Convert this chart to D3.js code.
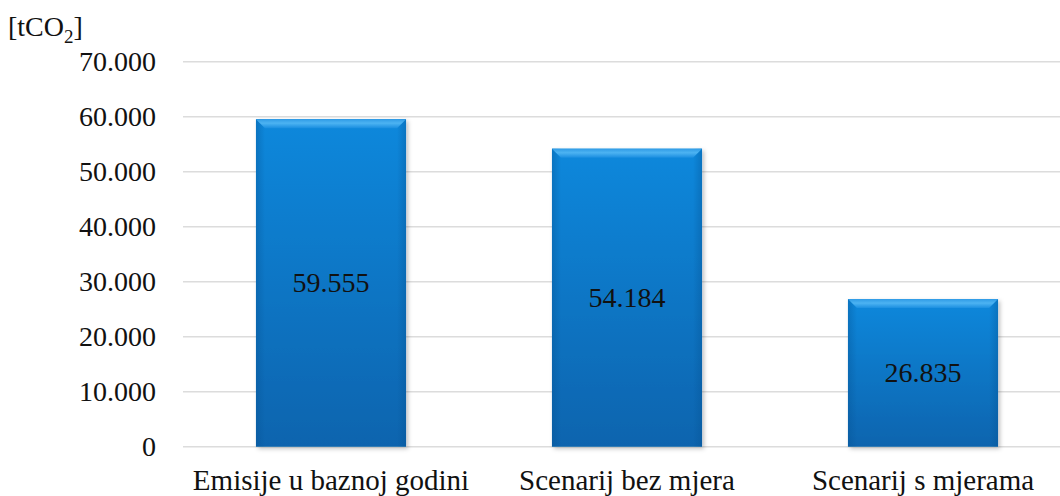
<!DOCTYPE html>
<html>
<head>
<meta charset="utf-8">
<script src="https://cdn.jsdelivr.net/npm/d3@7"></script>
<style>
  html, body { margin: 0; padding: 0; background: #ffffff; }
  svg { display: block; }
  text { font-family: "Liberation Serif", "Times New Roman", serif; fill: #111; }
</style>
</head>
<body>
<svg id="chart" width="1060" height="496"></svg>
<script>
// Emissions by scenario, tonnes of CO2
const categories = ["Emisije u baznoj godini", "Scenarij bez mjera", "Scenarij s mjerama"];
const values = [59555, 54184, 26835];
const tickValues = [0, 10000, 20000, 30000, 40000, 50000, 60000, 70000];
const tickLabels = ["0", "10.000", "20.000", "30.000", "40.000", "50.000", "60.000", "70.000"];
const valueLabels = ["59.555", "54.184", "26.835"];

const W = 1060, H = 496;
const svg = d3.select("#chart");

const x = d3.scaleBand().domain(categories).range([183, 1071]).paddingInner(0.493).paddingOuter(0.2465);
const y = d3.scaleLinear().domain([0, 70000]).range([446.7, 61.7]);

const defs = svg.append("defs");
const grad = defs.append("linearGradient").attr("id", "barFill").attr("x1", 0).attr("y1", 0).attr("x2", 0).attr("y2", 1);
grad.append("stop").attr("offset", "0%").attr("stop-color", "#0a88dc");
grad.append("stop").attr("offset", "100%").attr("stop-color", "#0764ae");

const side = defs.append("linearGradient").attr("id", "sideShade").attr("x1", 0).attr("y1", 0).attr("x2", 1).attr("y2", 0);
side.append("stop").attr("offset", "0%").attr("stop-color", "#04508f").attr("stop-opacity", 0.35);
side.append("stop").attr("offset", "6%").attr("stop-color", "#04508f").attr("stop-opacity", 0);
side.append("stop").attr("offset", "94%").attr("stop-color", "#04508f").attr("stop-opacity", 0);
side.append("stop").attr("offset", "100%").attr("stop-color", "#04508f").attr("stop-opacity", 0.35);

const topBevel = defs.append("linearGradient").attr("id", "topBevel").attr("x1", 0).attr("y1", 0).attr("x2", 0).attr("y2", 1);
topBevel.append("stop").attr("offset", "0%").attr("stop-color", "#2f9be6");
topBevel.append("stop").attr("offset", "45%").attr("stop-color", "#4cb3f2");
topBevel.append("stop").attr("offset", "100%").attr("stop-color", "#1a8ee0");

const shadow = defs.append("filter").attr("id", "shadow").attr("x", "-10%").attr("y", "-10%").attr("width", "130%").attr("height", "130%");
shadow.append("feDropShadow").attr("dx", 2).attr("dy", 2).attr("stdDeviation", 2).attr("flood-color", "#000").attr("flood-opacity", 0.25);

// Horizontal gridlines
svg.append("g").selectAll("line").data(tickValues).join("line")
  .attr("x1", 183).attr("x2", W)
  .attr("y1", d => y(d)).attr("y2", d => y(d))
  .attr("stroke", "#dcdcdc").attr("stroke-width", 1.5);

// Y-axis tick labels
svg.append("g").selectAll("text").data(tickValues).join("text")
  .attr("x", 156).attr("y", d => y(d) + 9)
  .attr("text-anchor", "end")
  .style("font-size", "28px")
  .text((d, i) => tickLabels[i]);

// Unit label
const unit = svg.append("text").attr("x", 8).attr("y", 36).style("font-size", "28px");
unit.append("tspan").text("[tCO");
unit.append("tspan").attr("dy", 7).style("font-size", "19px").text("2");
unit.append("tspan").attr("dy", -7).text("]");

// Bars
const bars = svg.append("g").selectAll("g").data(categories).join("g");
bars.append("rect")
  .attr("x", d => x(d)).attr("width", x.bandwidth())
  .attr("y", (d, i) => y(values[i])).attr("height", (d, i) => y(0) - y(values[i]))
  .attr("fill", "url(#barFill)")
  .attr("filter", "url(#shadow)");
bars.append("rect")
  .attr("x", d => x(d)).attr("width", x.bandwidth())
  .attr("y", (d, i) => y(values[i])).attr("height", (d, i) => y(0) - y(values[i]))
  .attr("fill", "url(#sideShade)");
bars.append("path")
  .attr("d", (d, i) => {
    const x0 = x(d), x1 = x(d) + x.bandwidth(), t = y(values[i]), b = 9;
    return `M${x0},${t}L${x1},${t}L${x1 - b},${t + b}L${x0 + b},${t + b}Z`;
  })
  .attr("fill", "url(#topBevel)");

// Value labels centred in each bar
bars.append("text")
  .attr("x", d => x(d) + x.bandwidth() / 2)
  .attr("y", (d, i) => (y(values[i]) + y(0)) / 2 + 9)
  .attr("text-anchor", "middle")
  .style("font-size", "28px")
  .text((d, i) => valueLabels[i]);

// Category labels
svg.append("g").selectAll("text").data(categories).join("text")
  .attr("x", d => x(d) + x.bandwidth() / 2)
  .attr("y", 490)
  .attr("text-anchor", "middle")
  .style("font-size", "29px")
  .text(d => d);
</script>
</body>
</html>
